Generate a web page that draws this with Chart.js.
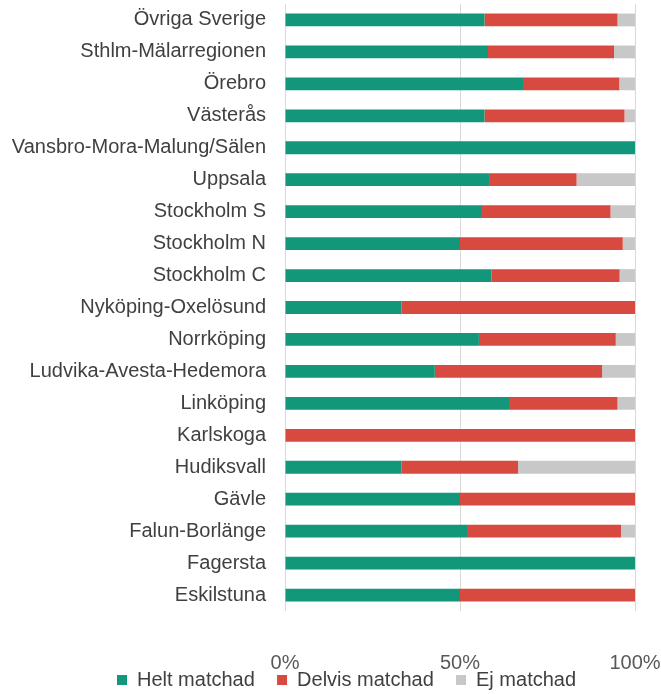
<!DOCTYPE html>
<html>
<head>
<meta charset="utf-8">
<script src="https://cdn.jsdelivr.net/npm/chart.js@4.4.1/dist/chart.umd.min.js"></script>
<style>
  html, body { margin: 0; padding: 0; background: #fff; }
  #wrap { width: 661px; height: 694px; }
</style>
</head>
<body>
<div id="wrap"><canvas id="matchChart" width="661" height="694"></canvas></div>
<script>
const regions = [
  'Övriga Sverige', 'Sthlm-Mälarregionen', 'Örebro', 'Västerås',
  'Vansbro-Mora-Malung/Sälen', 'Uppsala', 'Stockholm S', 'Stockholm N',
  'Stockholm C', 'Nyköping-Oxelösund', 'Norrköping', 'Ludvika-Avesta-Hedemora',
  'Linköping', 'Karlskoga', 'Hudiksvall', 'Gävle', 'Falun-Borlänge',
  'Fagersta', 'Eskilstuna'
];
const heltMatchad   = [57, 58, 68, 57, 100, 58.3, 56, 50, 59, 33.3, 55.4, 42.8, 64, 0, 33.3, 50, 52, 100, 50];
const delvisMatchad = [38, 36, 27.5, 40, 0, 25, 37, 46.5, 36.6, 66.7, 39.1, 47.8, 31, 100, 33.3, 50, 44, 0, 50];
const ejMatchad     = [5, 6, 4.5, 3, 0, 16.7, 7, 3.5, 4.4, 0, 5.5, 9.4, 5, 0, 33.4, 0, 4, 0, 0];
const xTicks = [0, 50, 100];

const font = 'Liberation Sans, Arial, sans-serif';

// legend sits left of centre in the original
const legendShift = {
  id: 'legendShift',
  afterLayout(chart) {
    chart.legend.left += 117;
    chart.legend.right += 117;
  }
};

var ctx = document.getElementById('matchChart').getContext('2d');
var chart = new Chart(ctx, {
  type: 'bar',
  data: {
    labels: regions,
    datasets: [
      { label: 'Helt matchad', data: heltMatchad, backgroundColor: '#12977a' },
      { label: 'Delvis matchad', data: delvisMatchad, backgroundColor: '#d84a3f' },
      { label: 'Ej matchad', data: ejMatchad, backgroundColor: '#c8c8c8' }
    ]
  },
  options: {
    indexAxis: 'y',
    responsive: false,
    animation: false,
    categoryPercentage: 0.8,
    barPercentage: 0.5,
    layout: { padding: { left: 0, right: 26, top: 4, bottom: -6 } },
    scales: {
      x: {
        stacked: true,
        min: 0,
        max: 100,
        afterBuildTicks: (axis) => { axis.ticks = xTicks.map(v => ({ value: v })); },
        afterFit: (axis) => {
          axis.height = 59;
          axis.paddingLeft = 0;
          axis.paddingRight = 0;
        },
        grid: { color: '#d9d9d9', lineWidth: 1, drawTicks: false },
        border: { display: false },
        ticks: {
          padding: 40,
          color: '#595959',
          font: { family: font, size: 20, lineHeight: 1.2 },
          callback: (v) => v + '%'
        }
      },
      y: {
        stacked: true,
        afterFit: (axis) => {
          axis.width = 285;
          axis.paddingTop = 0;
          axis.paddingBottom = 0;
        },
        grid: { display: false, drawTicks: false },
        border: { display: false },
        ticks: {
          padding: 19,
          autoSkip: false,
          color: '#404040',
          font: { family: font, size: 20 }
        }
      }
    },
    plugins: {
      tooltip: { enabled: false },
      legend: {
        position: 'bottom',
        align: 'start',
        labels: {
          boxWidth: 10,
          boxHeight: 10,
          padding: 0,
          color: '#404040',
          font: { family: font, size: 20 },
          generateLabels: (c) => Chart.defaults.plugins.legend.labels.generateLabels(c)
            .map((item, i) => ({ ...item, text: i < 2 ? item.text + '    ' : item.text }))
        }
      }
    }
  },
  plugins: [legendShift]
});
</script>
</body>
</html>
